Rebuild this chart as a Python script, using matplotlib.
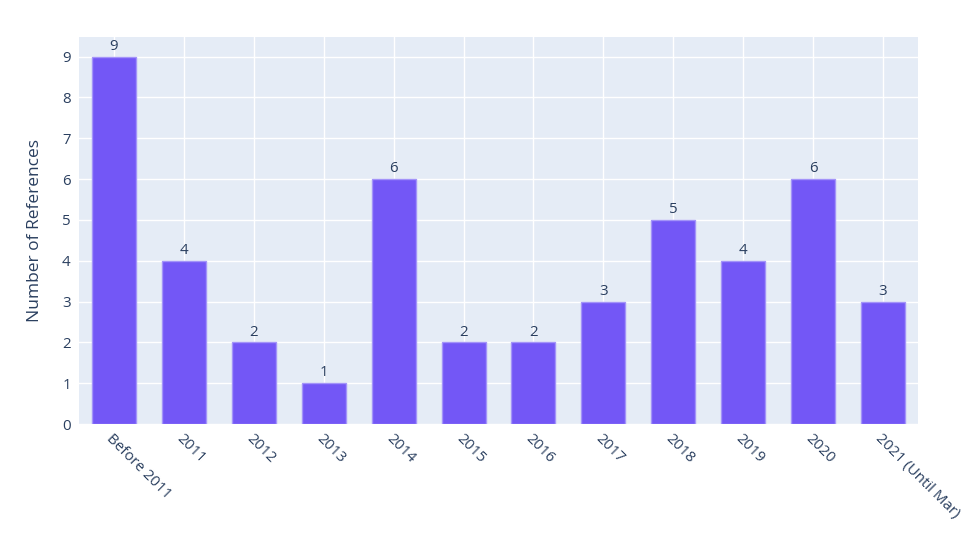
import matplotlib
matplotlib.use("Agg")
import matplotlib.pyplot as plt
import matplotlib.transforms as mtransforms
import numpy as np

categories = ["Before 2011", "2011", "2012", "2013", "2014", "2015", "2016",
              "2017", "2018", "2019", "2020", "2021 (Until Mar)"]
values = [9, 4, 2, 1, 6, 2, 2, 3, 5, 4, 6, 3]
y_ticks = list(range(0, 10))

TXT = "#2a3f5f"
plt.rcParams['font.family'] = ['Open Sans', 'DejaVu Sans']

W, H = 979, 534
fig = plt.figure(figsize=(W / 100, H / 100), dpi=100)
L, R, T, B = 79, 918, 37, 424
ax = fig.add_axes([L / W, 1 - B / H, (R - L) / W, (B - T) / H])
ax.set_facecolor("#e5ecf6")

x = np.arange(len(categories))
ax.bar(x, values, width=0.63, color="#7357f6", edgecolor="#a394f9",
       linewidth=1.0, zorder=3)
for xi, v in zip(x, values):
    ax.annotate(str(v), (xi, v), xytext=(0, 2), textcoords="offset points",
                ha="center", va="bottom", fontsize=10.8, color=TXT, zorder=4)

ax.set_xlim(-0.5, len(categories) - 0.5)
ax.set_ylim(0, 9.48)
ax.set_yticks(y_ticks)
ax.set_yticklabels([str(t) for t in y_ticks], fontsize=10.8, color=TXT)
ax.set_xticks(x)
ax.set_xticklabels(categories, fontsize=10.8, color=TXT, rotation=-45,
                   ha="left", va="top", rotation_mode="anchor")
shift = mtransforms.ScaledTranslation(4 / 100, 0, fig.dpi_scale_trans)
for lab in ax.get_xticklabels():
    lab.set_transform(lab.get_transform() + shift)
ax.tick_params(axis="both", length=0)
ax.tick_params(axis="y", pad=6)
ax.tick_params(axis="x", pad=5)
ax.grid(True, color="white", linewidth=1, zorder=0)
ax.set_axisbelow(True)
for s in ax.spines.values():
    s.set_visible(False)

ax.set_ylabel("Number of References", fontsize=12.5, color=TXT, labelpad=14)

fig.savefig("out.png", dpi=100, facecolor="white")
